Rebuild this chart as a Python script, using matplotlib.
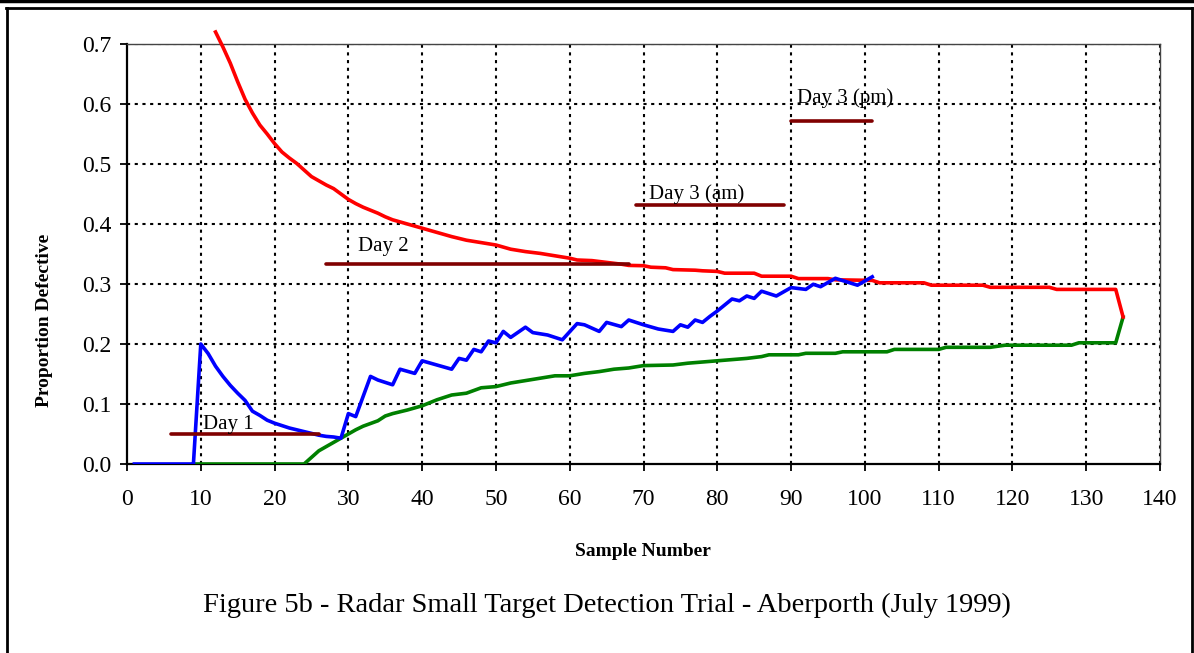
import numpy as np
import matplotlib
matplotlib.use('Agg')
import matplotlib.pyplot as plt
from matplotlib.lines import Line2D

plt.rcParams['font.family'] = ['Liberation Serif', 'DejaVu Serif']

# proportion defective (blue)
p_x = [1, 9, 10, 11, 12, 13, 14, 15, 16, 17, 18, 19, 20, 21, 22, 23, 24, 25, 26, 27, 28, 29,
       30, 31, 33, 34, 36, 37, 39, 40, 44, 45, 46, 47, 48, 49, 50, 51, 52, 54, 55, 57, 59,
       61, 62, 64, 65, 67, 68, 70, 72, 74, 75, 76, 77, 78, 79, 80, 82, 83, 84, 85, 86, 88,
       90, 92, 93, 94, 96, 99, 101]
p_y = [0, 0, 0.2, 0.184, 0.163, 0.146, 0.131, 0.118, 0.106, 0.088, 0.081, 0.073, 0.068,
       0.064, 0.06, 0.057, 0.054, 0.051, 0.048, 0.046, 0.045, 0.043,
       0.084, 0.079, 0.146, 0.14, 0.132, 0.158, 0.151, 0.172, 0.158, 0.176, 0.173, 0.191,
       0.187, 0.205, 0.202, 0.221, 0.211, 0.228, 0.219, 0.215, 0.207,
       0.234, 0.232, 0.221, 0.236, 0.229, 0.24, 0.232, 0.225, 0.221, 0.232, 0.228, 0.24,
       0.236, 0.246, 0.255, 0.275, 0.272, 0.28, 0.276, 0.288, 0.28,
       0.294, 0.291, 0.2995, 0.2955, 0.3095, 0.298, 0.312]

# upper limit (red)
u_x = [12, 13, 14, 15, 16, 17, 18, 19, 20, 21, 22, 23, 24, 25, 26, 27, 28, 29, 30, 31, 32,
       33, 34, 35, 36, 38, 40, 42, 44, 46, 47, 48, 50, 52, 54, 56, 58, 60, 61, 63, 65, 67,
       68, 70, 71, 73, 74, 77, 78, 80, 81, 85, 86, 90, 91, 95, 96, 101, 102, 108, 109, 116,
       117, 125, 126, 134, 135]
u_y = [0.72, 0.695, 0.668, 0.637, 0.608, 0.585, 0.565, 0.55, 0.534, 0.52, 0.51, 0.501,
       0.49, 0.479, 0.472, 0.465, 0.459, 0.45, 0.441, 0.434, 0.428, 0.423, 0.418, 0.412,
       0.407, 0.4, 0.393, 0.386, 0.379, 0.373, 0.371, 0.369, 0.365, 0.358, 0.354, 0.351,
       0.347, 0.343, 0.34, 0.339, 0.336, 0.333, 0.331, 0.3305, 0.328, 0.327, 0.324, 0.323,
       0.322, 0.321, 0.318, 0.318, 0.313, 0.313, 0.309, 0.309, 0.307, 0.306, 0.302, 0.302,
       0.298, 0.298, 0.2945, 0.2945, 0.291, 0.291, 0.245]

# lower limit (green)
l_x = [9, 24, 26, 29, 31, 32, 34, 35, 36, 38, 40, 42, 44, 46, 48, 50, 52, 53, 56, 58, 60,
       62, 64, 66, 68, 70, 74, 76, 78, 81, 84, 86, 87, 91, 92, 96, 97, 103, 104, 110, 111,
       117, 119, 128, 129, 134, 135]
l_y = [0, 0, 0.022, 0.043, 0.057, 0.063, 0.072, 0.08, 0.084, 0.09, 0.097, 0.107, 0.115,
       0.118, 0.127, 0.129, 0.135, 0.137, 0.143, 0.147, 0.147, 0.151, 0.154, 0.158, 0.16,
       0.164, 0.165, 0.168, 0.17, 0.173, 0.176, 0.179, 0.182, 0.182, 0.1845, 0.1845, 0.187,
       0.187, 0.191, 0.191, 0.1945, 0.1945, 0.198, 0.198, 0.202, 0.202, 0.245]

# day markers
day_names = ['Day 1', 'Day 2', 'Day 3 (am)', 'Day 3 (pm)']
day_start = [6, 27, 69, 90]
day_end = [26, 68, 89, 101]
day_level = [0.05, 0.334, 0.432, 0.572]
day_text_x = [10.3, 31.3, 70.8, 90.8]
day_text_y = [0.066, 0.363, 0.449, 0.609]

W, H = 1194, 653
fig = plt.figure(figsize=(W / 100, H / 100), dpi=100)
ax = fig.add_axes([127 / W, 1 - 464 / H, (1160 - 127) / W, (464 - 44) / H])

ax.set_xlim(0, 140)
ax.set_ylim(0, 0.7)
ax.set_xticks(np.arange(0, 141, 10))
ax.set_yticks(np.arange(0, 0.71, 0.1))
ax.set_yticklabels(['%.1f' % v for v in np.arange(0, 0.71, 0.1)])

dots = (0, (1.5, 2.2))
for gx in range(10, 141, 10):
    ax.axvline(gx, color='black', lw=1.5, linestyle=dots, zorder=1)
for gy in np.arange(0.1, 0.71, 0.1):
    ax.axhline(gy, color='black', lw=1.5, linestyle=dots, zorder=1)

ax.plot(l_x, l_y, color='#008000', lw=2.6, zorder=3)
ax.plot(u_x, u_y, color='#ff0000', lw=2.6, zorder=3, clip_on=False)
ax.plot(p_x, p_y, color='#0000ff', lw=2.6, zorder=4)

for name, x0, x1, lv, tx, ty in zip(day_names, day_start, day_end, day_level, day_text_x, day_text_y):
    ax.plot([x0, x1], [lv, lv], color='#800000', lw=2.6, solid_capstyle='round', zorder=5)
    ax.text(tx, ty, name, fontsize=15, ha='left', va='center', zorder=6)

for s in ['top', 'right']:
    ax.spines[s].set_color('#444444')
    ax.spines[s].set_linewidth(1.0)
for s in ['left', 'bottom']:
    ax.spines[s].set_color('black')
    ax.spines[s].set_linewidth(1.6)

ax.tick_params(axis='both', direction='out', length=5, width=1.3, labelsize=17)
ax.tick_params(axis='x', pad=13)
ax.tick_params(axis='y', pad=6)

fig.text(643 / W, 1 - 551 / H, 'Sample Number', fontsize=14, fontweight='bold',
         ha='center', va='center')
fig.text(45 / W, 1 - 320 / H, 'Proportion Defective', fontsize=14, fontweight='bold',
         ha='center', va='center', rotation=90)
fig.text(607 / W, 1 - 605 / H, 'Figure 5b - Radar Small Target Detection Trial - Aberporth (July 1999)',
         fontsize=20.5, ha='center', va='center')

# frame around the figure
fig.add_artist(Line2D([0, 1], [1 - 1 / H, 1 - 1 / H], transform=fig.transFigure, color='black', lw=2.5))
fig.add_artist(Line2D([6 / W, 1192 / W], [1 - 7.5 / H, 1 - 7.5 / H], transform=fig.transFigure, color='black', lw=2))
fig.add_artist(Line2D([6.5 / W, 6.5 / W], [0, 1 - 7.5 / H], transform=fig.transFigure, color='black', lw=2))
fig.add_artist(Line2D([1191.5 / W, 1191.5 / W], [0, 1 - 7.5 / H], transform=fig.transFigure, color='black', lw=2))

fig.savefig('out.png', dpi=100)
